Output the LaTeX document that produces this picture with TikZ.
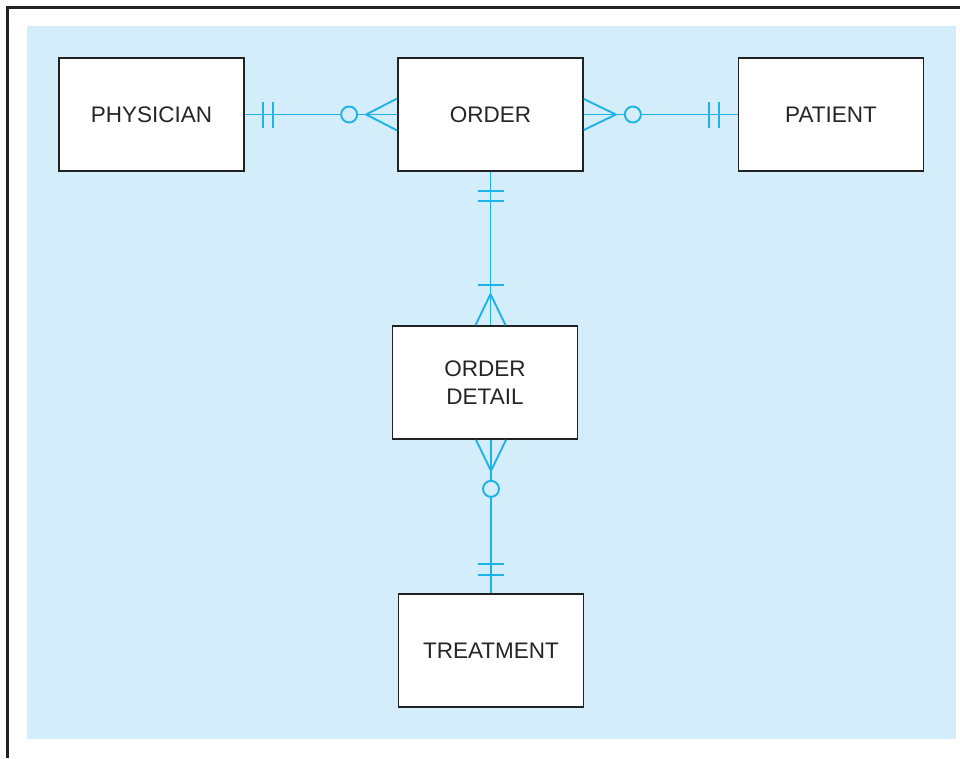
\documentclass[tikz,border=0pt]{standalone}
\usepackage{fontspec}
\setmainfont{Liberation Sans}
\usetikzlibrary{calc}
\definecolor{bgblue}{HTML}{D3EEFA}
\definecolor{relc}{HTML}{1DB2E8}
\definecolor{framec}{HTML}{222222}
\begin{document}
\begin{tikzpicture}[x=1pt,y=-1pt,
  entity/.style={draw=framec, line width=1.7pt, fill=white, minimum width=185pt, minimum height=113pt,
    font=\fontsize{22.5}{28}\selectfont, text=black!85, align=center, inner sep=0pt},
  relline/.style={draw=relc, line width=1.9pt},
  relcirc/.style={draw=relc, line width=1.9pt, fill=bgblue}]
\useasboundingbox (0,0) rectangle (960,758);
\fill[bgblue] (27,26) rectangle (956,739);
\draw[framec, line width=3pt] (7,758) -- (7,7) -- (960,7);

\node[entity] (phys) at (151.5,114.5) {PHYSICIAN};
\node[entity] (order) at (490.5,114.5) {ORDER};
\node[entity] (pat) at (831,114.5) {PATIENT};
\node[entity] (detail) at (485,382.5) {ORDER\\DETAIL};
\node[entity] (treat) at (491,650.5) {TREATMENT};

% PHYSICIAN -- ORDER
\draw[relline] (phys.east) -- (order.west);
\draw[relline] ($(phys.east)+(18,-13)$) -- ++(0,26);
\draw[relline] ($(phys.east)+(28,-13)$) -- ++(0,26);
\draw[relline] ($(order.west)+(0,-16)$) -- ($(order.west)+(-31,0)$) -- ($(order.west)+(0,16)$);
\draw[relcirc] ($(order.west)+(-48,0)$) circle[radius=8];

% ORDER -- PATIENT
\draw[relline] (order.east) -- (pat.west);
\draw[relline] ($(order.east)+(0,-15.5)$) -- ($(order.east)+(32,0)$) -- ($(order.east)+(0,15.5)$);
\draw[relcirc] ($(order.east)+(49,0)$) circle[radius=8];
\draw[relline] ($(pat.west)+(-29,-13)$) -- ++(0,26);
\draw[relline] ($(pat.west)+(-19,-13)$) -- ++(0,26);

% ORDER -- ORDER DETAIL
\draw[relline] (order.south) -- (order.south |- detail.north) coordinate (dtop);
\draw[relline] ($(order.south)+(-13,19)$) -- ++(26,0);
\draw[relline] ($(order.south)+(-13,29)$) -- ++(26,0);
\draw[relline] ($(dtop)+(-13,-40)$) -- ++(26,0);
\draw[relline] ($(dtop)+(-15,0)$) -- ($(dtop)+(0,-31)$) -- ($(dtop)+(15,0)$);

% ORDER DETAIL -- TREATMENT
\draw[relline] (detail.south -| treat.north) coordinate (dbot) -- (treat.north);
\draw[relline] ($(dbot)+(-15,0)$) -- ($(dbot)+(0,31)$) -- ($(dbot)+(15,0)$);
\draw[relcirc] ($(dbot)+(0,49)$) circle[radius=8];
\draw[relline] ($(treat.north)+(-13,-29)$) -- ++(26,0);
\draw[relline] ($(treat.north)+(-13,-18)$) -- ++(26,0);
\end{tikzpicture}
\end{document}
